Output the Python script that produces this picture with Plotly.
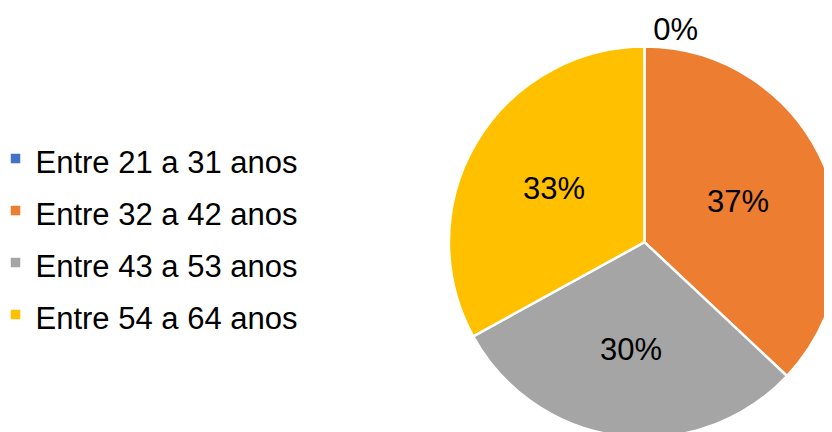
import plotly.graph_objects as go

age_groups = [
    "Entre 21 a 31 anos",
    "Entre 32 a 42 anos",
    "Entre 43 a 53 anos",
    "Entre 54 a 64 anos",
]
shares = [0, 37, 30, 33]
slice_colors = ["#4472C4", "#ED7D31", "#A5A5A5", "#FFC000"]
text_positions = ["outside", "inside", "inside", "inside"]

# legend font sets the row pitch; the span sets the visible text size
legend_labels = [f'<span style="font-size:31px">{g}</span>' for g in age_groups]

fig = go.Figure(
    go.Pie(
        labels=legend_labels,
        values=shares,
        sort=False,
        direction="clockwise",
        rotation=0,
        marker=dict(colors=slice_colors, line=dict(color="#ffffff", width=2.5)),
        texttemplate="%{percent:.0%}",
        textposition=text_positions,
        insidetextorientation="horizontal",
        textfont=dict(size=31, color="#000000", family="Liberation Sans, Arial"),
        domain=dict(x=[0.53, 1.0], y=[0.002, 0.914]),
        hoverinfo="label+percent",
    )
)

fig.update_layout(
    width=832,
    height=432,
    margin=dict(l=0, r=0, t=0, b=0, autoexpand=False),
    paper_bgcolor="#ffffff",
    plot_bgcolor="#ffffff",
    font=dict(family="Liberation Sans, Arial", color="#000000"),
    showlegend=True,
    legend=dict(
        x=-0.015,
        xanchor="left",
        y=0.47,
        yanchor="middle",
        font=dict(size=37.7, color="#000000"),
        itemwidth=30,
        bgcolor="rgba(0,0,0,0)",
    ),
)

fig.write_html("out.html")
